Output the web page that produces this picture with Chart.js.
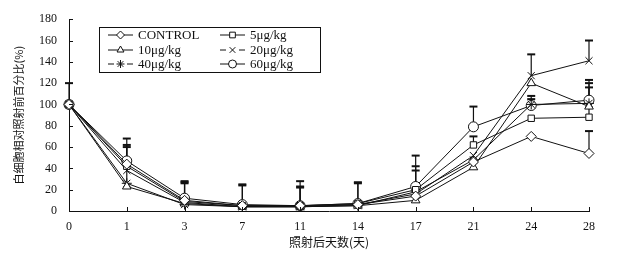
<!DOCTYPE html>
<html>
<head>
<meta charset="utf-8">
<script src="https://cdn.jsdelivr.net/npm/chart.js@4/dist/chart.umd.min.js"></script>
<style>
  html, body { margin: 0; padding: 0; background: #fff; }
  #wrap { width: 629px; height: 255px; }
</style>
</head>
<body>
<div id="wrap"><canvas id="wbc"></canvas></div>
<script>
// days after irradiation (category axis)
const days = ['0', '1', '3', '7', '11', '14', '17', '21', '24', '28'];
const yTicks = [0, 20, 40, 60, 80, 100, 120, 140, 160, 180];
const seriesNames = ['CONTROL', '5μg/kg', '10μg/kg', '20μg/kg', '40μg/kg', '60μg/kg'];

// relative WBC (% of pre-irradiation value)
const control = [100, 44, 10, 5, 5, 6, 14, 46, 70, 54];
const dose5   = [100, 42, 9, 5, 5, 7, 20, 62, 87, 88];
const dose10  = [100, 23, 7, 4, 4, 5, 10, 41, 120, 98];
const dose20  = [100, 38, 8, 4, 4, 6, 16, 52, 127, 141];
const dose40  = [100, 26, 6, 4, 4, 5, 18, 48, 100, 101];
const dose60  = [100, 47, 12, 6, 5, 7, 23, 79, 99, 104];

// upper error bars (SD), 0 = none drawn
const controlSd = [20, 0, 0, 0, 0, 0, 0, 0, 0, 21];
const dose5Sd   = [0, 18, 17, 19, 18, 19, 18, 8, 0, 28];
const dose10Sd  = [0, 0, 0, 0, 0, 0, 0, 0, 0, 22];
const dose20Sd  = [0, 0, 0, 0, 0, 0, 0, 0, 20, 19];
const dose40Sd  = [0, 36, 21, 0, 18, 0, 24, 0, 8, 22];
const dose60Sd  = [0, 21, 16, 19, 23, 20, 29, 19, 6, 0];

const pointStyles = ['rectRot', 'rect', 'triangle', 'crossRot', 'star', 'circle'];
const legendDashed = [false, false, false, true, true, false];

const values = [control, dose5, dose10, dose20, dose40, dose60];
const sds = [controlSd, dose5Sd, dose10Sd, dose20Sd, dose40Sd, dose60Sd];

const serif = "'Liberation Serif', 'DejaVu Serif', serif";
const cjk = "'Noto Sans CJK SC', sans-serif";

const datasets = values.map((v, i) => ({
    label: seriesNames[i],
    data: v,
    borderColor: '#111',
    borderWidth: 1,
    backgroundColor: '#fff',
    pointStyle: pointStyles[i],
    pointRadius: pointStyles[i] === 'rect' ? 4.5 : 5,
    pointBorderColor: '#111',
    pointBackgroundColor: '#fff',
    pointBorderWidth: 1,
    tension: 0,
    fill: false
}));

// upward error bars with caps
const errorBars = {
    id: 'errorBars',
    beforeDatasetsDraw(chart) {
        const ctx = chart.ctx;
        const y = chart.scales.y;
        ctx.save();
        ctx.strokeStyle = '#111';
        sds.forEach((sd, i) => {
            const meta = chart.getDatasetMeta(i);
            sd.forEach((s, j) => {
                if (!s) return;
                const pt = meta.data[j];
                const top = y.getPixelForValue(values[i][j] + s);
                ctx.lineWidth = 1.2;
                ctx.beginPath();
                ctx.moveTo(pt.x, pt.y);
                ctx.lineTo(pt.x, top);
                ctx.stroke();
                ctx.lineWidth = 2;
                ctx.beginPath();
                ctx.moveTo(pt.x - 4, top);
                ctx.lineTo(pt.x + 4, top);
                ctx.stroke();
            });
        });
        ctx.restore();
    }
};

// inward tick marks on both axes
const innerTicks = {
    id: 'innerTicks',
    afterDraw(chart) {
        const ctx = chart.ctx;
        const {x, y} = chart.scales;
        const area = chart.chartArea;
        ctx.save();
        ctx.strokeStyle = '#111';
        ctx.lineWidth = 1;
        yTicks.forEach(t => {
            const py = Math.round(y.getPixelForValue(t)) + 0.5;
            ctx.beginPath();
            ctx.moveTo(area.left, py);
            ctx.lineTo(area.left + 4, py);
            ctx.stroke();
        });
        days.forEach((d, i) => {
            const px = Math.round(x.getPixelForValue(i)) + 0.5;
            ctx.beginPath();
            ctx.moveTo(px, area.bottom);
            ctx.lineTo(px, area.bottom - 4);
            ctx.stroke();
        });
        ctx.restore();
    }
};

// boxed two-column legend
const boxLegend = {
    id: 'boxLegend',
    afterDraw(chart) {
        const ctx = chart.ctx;
        const bx = 99.5, by = 27.5, bw = 221, bh = 45;
        ctx.save();
        ctx.fillStyle = '#fff';
        ctx.fillRect(bx, by, bw, bh);
        ctx.strokeStyle = '#111';
        ctx.lineWidth = 1;
        ctx.strokeRect(bx, by, bw, bh);
        const cols = [108, 220];
        const rows = [35, 50, 64];
        seriesNames.forEach((name, i) => {
            const sx = cols[i % 2];
            const sy = rows[Math.floor(i / 2)];
            ctx.strokeStyle = '#111';
            ctx.lineWidth = 1;
            ctx.beginPath();
            if (legendDashed[i]) {
                ctx.moveTo(sx, sy); ctx.lineTo(sx + 6, sy);
                ctx.moveTo(sx + 19, sy); ctx.lineTo(sx + 25, sy);
            } else {
                ctx.moveTo(sx, sy); ctx.lineTo(sx + 25, sy);
            }
            ctx.stroke();
            ctx.fillStyle = '#fff';
            Chart.helpers.drawPoint(ctx, {
                pointStyle: pointStyles[i],
                radius: 4,
                borderWidth: 1
            }, sx + 12.5, sy);
            ctx.fillStyle = '#111';
            ctx.font = '13px ' + serif;
            ctx.textBaseline = 'middle';
            ctx.textAlign = 'left';
            ctx.fillText(name, sx + 30, sy + 1);
        });
        ctx.restore();
    }
};

new Chart('wbc', {
    type: 'line',
    data: { labels: days, datasets: datasets },
    options: {
        responsive: true,
        maintainAspectRatio: false,
        animation: false,
        layout: { padding: { left: 0, right: 40, top: 8, bottom: 0 } },
        plugins: {
            legend: { display: false },
            tooltip: { enabled: false }
        },
        scales: {
            x: {
                type: 'category',
                offset: false,
                grid: { display: false, drawTicks: false },
                border: { display: true, color: '#111', width: 1 },
                ticks: {
                    autoSkip: false, maxRotation: 0, padding: 9,
                    color: '#111', font: { family: serif, size: 12 }
                },
                title: {
                    display: true, text: '照射后天数(天)', color: '#111',
                    font: { family: cjk, size: 12 }, padding: { top: 0, bottom: 5 }
                },
                afterFit(scale) { scale.height = 44; }
            },
            y: {
                min: 0, max: 180,
                grid: { display: false, drawTicks: false },
                border: { display: true, color: '#111', width: 1 },
                ticks: {
                    stepSize: 20, padding: 12,
                    color: '#111', font: { family: serif, size: 12 }
                },
                title: {
                    display: true, text: '白细胞相对照射前百分比(%)', color: '#111',
                    font: { family: cjk, size: 11 }, padding: { top: 12, bottom: 0 }
                },
                afterFit(scale) { scale.width = 69; }
            }
        }
    },
    plugins: [errorBars, innerTicks, boxLegend]
});
</script>
</body>
</html>
